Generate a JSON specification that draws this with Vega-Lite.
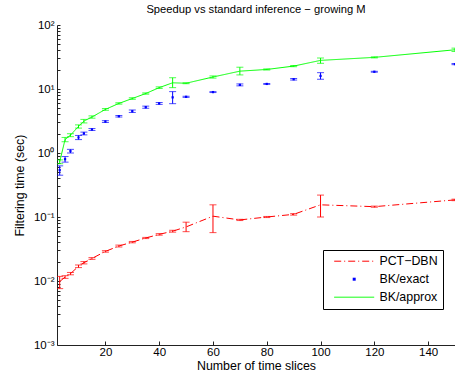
{
  "$schema": "https://vega.github.io/schema/vega-lite/v6.json",
  "autosize": "none",
  "width": 398,
  "height": 320,
  "padding": {"left": 57, "top": 25, "right": 0, "bottom": 32},
  "background": "white",
  "config": {
    "font": "Liberation Sans",
    "view": {"stroke": null},
    "axis": {"domainColor": "#222", "tickColor": "#222", "labelColor": "#000", "titleColor": "#000", "labelFont": "Liberation Sans", "titleFont": "Liberation Sans", "labelFontSize": 11.5, "titleFontSize": 12.4, "titleFontWeight": "normal", "grid": false}
  },
  "title": {"text": "Speedup vs standard inference − growing M", "fontSize": 11.2, "fontWeight": "normal", "font": "Liberation Sans", "color": "#000", "offset": 4},
  "data": {"values": [
    {"s": "PCT−DBN", "x": 3, "y": 0.0098, "lo": 0.0076, "hi": 0.0118},
    {"s": "PCT−DBN", "x": 5, "y": 0.0115, "lo": 0.0110, "hi": 0.0121},
    {"s": "PCT−DBN", "x": 7, "y": 0.0130, "lo": 0.0125, "hi": 0.0136},
    {"s": "PCT−DBN", "x": 10, "y": 0.0170, "lo": 0.0162, "hi": 0.0178},
    {"s": "PCT−DBN", "x": 12, "y": 0.0193, "lo": 0.0185, "hi": 0.0201},
    {"s": "PCT−DBN", "x": 15, "y": 0.0225, "lo": 0.0218, "hi": 0.0232},
    {"s": "PCT−DBN", "x": 20, "y": 0.0290, "lo": 0.0282, "hi": 0.0298},
    {"s": "PCT−DBN", "x": 25, "y": 0.0352, "lo": 0.0340, "hi": 0.0364},
    {"s": "PCT−DBN", "x": 30, "y": 0.0405, "lo": 0.0395, "hi": 0.0415},
    {"s": "PCT−DBN", "x": 35, "y": 0.0470, "lo": 0.0460, "hi": 0.0480},
    {"s": "PCT−DBN", "x": 40, "y": 0.0535, "lo": 0.0520, "hi": 0.0550},
    {"s": "PCT−DBN", "x": 45, "y": 0.0600, "lo": 0.0580, "hi": 0.0620},
    {"s": "PCT−DBN", "x": 50, "y": 0.0700, "lo": 0.0590, "hi": 0.0830},
    {"s": "PCT−DBN", "x": 60, "y": 0.1030, "lo": 0.0570, "hi": 0.1550},
    {"s": "PCT−DBN", "x": 70, "y": 0.0900, "lo": 0.0880, "hi": 0.0920},
    {"s": "PCT−DBN", "x": 80, "y": 0.1000, "lo": 0.0980, "hi": 0.1020},
    {"s": "PCT−DBN", "x": 90, "y": 0.1100, "lo": 0.1070, "hi": 0.1130},
    {"s": "PCT−DBN", "x": 100, "y": 0.1550, "lo": 0.1000, "hi": 0.2200},
    {"s": "PCT−DBN", "x": 120, "y": 0.1450, "lo": 0.1420, "hi": 0.1480},
    {"s": "PCT−DBN", "x": 150, "y": 0.1850, "lo": 0.1800, "hi": 0.1900},
    {"s": "BK/exact", "x": 3, "y": 0.54, "lo": 0.45, "hi": 0.63},
    {"s": "BK/exact", "x": 5, "y": 0.80, "lo": 0.72, "hi": 0.88},
    {"s": "BK/exact", "x": 7, "y": 1.07, "lo": 1.00, "hi": 1.14},
    {"s": "BK/exact", "x": 10, "y": 1.75, "lo": 1.62, "hi": 1.88},
    {"s": "BK/exact", "x": 12, "y": 2.02, "lo": 1.92, "hi": 2.12},
    {"s": "BK/exact", "x": 15, "y": 2.33, "lo": 2.25, "hi": 2.41},
    {"s": "BK/exact", "x": 20, "y": 3.10, "lo": 3.00, "hi": 3.20},
    {"s": "BK/exact", "x": 25, "y": 3.75, "lo": 3.65, "hi": 3.85},
    {"s": "BK/exact", "x": 30, "y": 4.50, "lo": 4.30, "hi": 4.70},
    {"s": "BK/exact", "x": 35, "y": 5.20, "lo": 5.00, "hi": 5.40},
    {"s": "BK/exact", "x": 40, "y": 5.95, "lo": 5.75, "hi": 6.15},
    {"s": "BK/exact", "x": 45, "y": 7.40, "lo": 5.90, "hi": 9.10},
    {"s": "BK/exact", "x": 50, "y": 7.55, "lo": 7.40, "hi": 7.70},
    {"s": "BK/exact", "x": 60, "y": 8.95, "lo": 8.80, "hi": 9.10},
    {"s": "BK/exact", "x": 70, "y": 11.6, "lo": 11.2, "hi": 12.0},
    {"s": "BK/exact", "x": 80, "y": 12.0, "lo": 11.8, "hi": 12.2},
    {"s": "BK/exact", "x": 90, "y": 14.2, "lo": 13.8, "hi": 14.6},
    {"s": "BK/exact", "x": 100, "y": 16.0, "lo": 14.2, "hi": 18.0},
    {"s": "BK/exact", "x": 120, "y": 18.6, "lo": 18.3, "hi": 18.9},
    {"s": "BK/exact", "x": 150, "y": 24.5, "lo": 24.0, "hi": 25.0},
    {"s": "BK/approx", "x": 3, "y": 0.73, "lo": 0.68, "hi": 0.78},
    {"s": "BK/approx", "x": 5, "y": 1.62, "lo": 1.50, "hi": 1.75},
    {"s": "BK/approx", "x": 7, "y": 1.90, "lo": 1.80, "hi": 2.00},
    {"s": "BK/approx", "x": 10, "y": 2.60, "lo": 2.45, "hi": 2.75},
    {"s": "BK/approx", "x": 12, "y": 3.15, "lo": 2.95, "hi": 3.35},
    {"s": "BK/approx", "x": 15, "y": 3.65, "lo": 3.50, "hi": 3.80},
    {"s": "BK/approx", "x": 20, "y": 4.80, "lo": 4.65, "hi": 4.95},
    {"s": "BK/approx", "x": 25, "y": 5.95, "lo": 5.80, "hi": 6.10},
    {"s": "BK/approx", "x": 30, "y": 7.10, "lo": 6.90, "hi": 7.30},
    {"s": "BK/approx", "x": 35, "y": 8.50, "lo": 8.30, "hi": 8.70},
    {"s": "BK/approx", "x": 40, "y": 10.5, "lo": 10.2, "hi": 10.8},
    {"s": "BK/approx", "x": 45, "y": 12.5, "lo": 10.5, "hi": 15.0},
    {"s": "BK/approx", "x": 50, "y": 12.3, "lo": 12.1, "hi": 12.5},
    {"s": "BK/approx", "x": 60, "y": 15.4, "lo": 14.8, "hi": 16.0},
    {"s": "BK/approx", "x": 70, "y": 19.0, "lo": 16.6, "hi": 21.9},
    {"s": "BK/approx", "x": 80, "y": 20.2, "lo": 19.8, "hi": 20.6},
    {"s": "BK/approx", "x": 90, "y": 22.8, "lo": 22.3, "hi": 23.3},
    {"s": "BK/approx", "x": 100, "y": 28.0, "lo": 25.2, "hi": 30.5},
    {"s": "BK/approx", "x": 120, "y": 31.2, "lo": 30.6, "hi": 31.8},
    {"s": "BK/approx", "x": 150, "y": 41.0, "lo": 38.5, "hi": 43.5}
  ]},
  "encoding": {
    "x": {"field": "x", "type": "quantitative",
      "scale": {"domain": [2, 150], "nice": false, "zero": false},
      "axis": {"values": [20, 40, 60, 80, 100, 120, 140], "title": "Number of time slices", "tickSize": -4, "labelPadding": 5, "titlePadding": 2, "labelFlush": false}},
    "color": {"field": "s", "type": "nominal",
      "scale": {"domain": ["PCT−DBN", "BK/exact", "BK/approx"], "range": ["#ff0000", "#0000ff", "#00ff00"]},
      "legend": {
        "title": null, "orient": "none", "legendX": 266, "legendY": 225,
        "strokeColor": "#000", "fillColor": "#fff", "padding": 5,
        "symbolType": "M-20,0H20", "symbolSize": 4, "symbolOffset": 20, "labelOffset": 19,
        "labelFontSize": 12.4, "labelFont": "Liberation Sans", "labelColor": "#000", "rowPadding": 5,
        "encode": {"symbols": {"update": {
          "shape": {"signal": "datum.index === 1 ? 'M-1.5,-1.5H1.5V1.5H-1.5Z' : 'M-20,0H20'"},
          "size": {"value": 4},
          "stroke": {"signal": "datum.index === 0 ? '#ff0000' : datum.index === 1 ? '#0000ff' : '#00ff00'"},
          "fill": {"signal": "datum.index === 1 ? '#0000ff' : 'transparent'"},
          "strokeWidth": {"signal": "datum.index === 1 ? 0 : 1"},
          "strokeDash": {"signal": "datum.index === 0 ? [7, 3, 1, 3] : [1, 0]"},
          "opacity": {"value": 1}
        }}}
      }}
  },
  "layer": [
    {
      "mark": {"type": "rule", "strokeWidth": 1, "clip": true},
      "encoding": {
        "y": {"field": "lo", "type": "quantitative",
          "scale": {"type": "log", "domain": [0.001, 100], "nice": false},
          "axis": {"values": [0.001, 0.002, 0.003, 0.004, 0.005, 0.006, 0.007, 0.008, 0.009, 0.01, 0.02, 0.03, 0.04, 0.05, 0.06, 0.07, 0.08, 0.09, 0.1, 0.2, 0.3, 0.4, 0.5, 0.6, 0.7, 0.8, 0.9, 1, 2, 3, 4, 5, 6, 7, 8, 9, 10, 20, 30, 40, 50, 60, 70, 80, 90, 100],
            "labelExpr": "datum.value === 0.001 ? '10⁻³' : datum.value === 0.01 ? '10⁻²' : datum.value === 0.1 ? '10⁻¹' : datum.value === 1 ? '10⁰' : datum.value === 10 ? '10¹' : datum.value === 100 ? '10²' : ''",
            "title": "Filtering time (sec)", "tickSize": -3, "labelPadding": 6, "titlePadding": 7, "labelFlush": false, "labelOverlap": false}},
        "y2": {"field": "hi"}
      }
    },
    {
      "mark": {"type": "tick", "orient": "horizontal", "size": 7, "thickness": 1, "clip": true},
      "encoding": {"y": {"field": "lo", "type": "quantitative"}}
    },
    {
      "mark": {"type": "tick", "orient": "horizontal", "size": 7, "thickness": 1, "clip": true},
      "encoding": {"y": {"field": "hi", "type": "quantitative"}}
    },
    {
      "transform": [{"filter": "datum.s !== 'BK/exact'"}],
      "mark": {"type": "line", "strokeWidth": 1, "clip": true},
      "encoding": {
        "y": {"field": "y", "type": "quantitative"},
        "strokeDash": {"field": "s", "type": "nominal", "scale": {"domain": ["PCT−DBN", "BK/approx"], "range": [[7, 3, 1, 3], [1, 0]]}, "legend": null}
      }
    },
    {
      "transform": [{"filter": "datum.s === 'BK/exact'"}],
      "mark": {"type": "point", "shape": "square", "filled": true, "size": 5, "opacity": 1, "clip": true},
      "encoding": {"y": {"field": "y", "type": "quantitative"}}
    }
  ]
}
